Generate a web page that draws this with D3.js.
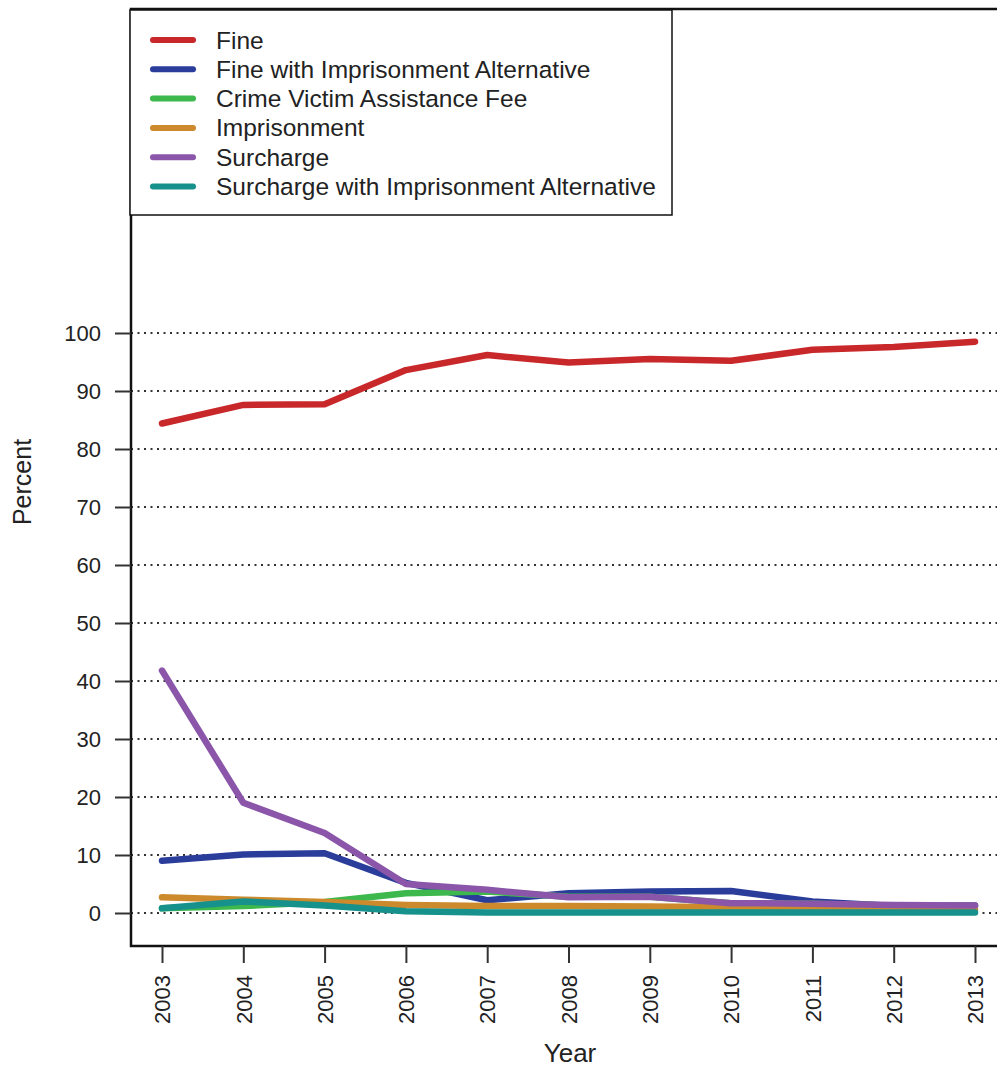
<!DOCTYPE html>
<html><head><meta charset="utf-8">
<script src="https://cdn.jsdelivr.net/npm/d3@7"></script>
<style>body{margin:0;background:#fff;} svg{display:block;font-family:"Liberation Sans",Arial,sans-serif;}</style>
</head><body>
<svg id="c" width="997" height="1070"></svg>
<script>
const years = [2003,2004,2005,2006,2007,2008,2009,2010,2011,2012,2013];
const seriesNames = ["Fine","Fine with Imprisonment Alternative","Crime Victim Assistance Fee","Imprisonment","Surcharge","Surcharge with Imprisonment Alternative"];
const seriesColors = ["#c8282a","#2b3d9b","#3db84c","#cc8a2c","#8b56a9","#17918b"];
const fine = [84.4,87.6,87.7,93.6,96.2,94.9,95.5,95.2,97.1,97.6,98.5];
const fineImpAlt = [9.0,10.1,10.3,5.2,2.2,3.4,3.7,3.8,2.0,1.2,1.3];
const crimeVictimFee = [0.8,1.2,1.9,3.4,3.7,2.8,2.8,1.7,1.6,1.3,1.2];
const imprisonment = [2.7,2.3,1.9,1.4,1.2,1.2,1.1,1.0,0.9,0.8,0.6];
const surcharge = [41.8,19.0,13.8,5.0,4.0,2.7,2.8,1.7,1.6,1.4,1.3];
const surchargeImpAlt = [0.8,2.0,1.3,0.3,0.1,0.1,0.1,0.1,0.1,0.1,0.1];
const yTicks = [0,10,20,30,40,50,60,70,80,90,100];
const xLabel = "Year", yLabel = "Percent";

const data = [fine,fineImpAlt,crimeVictimFee,imprisonment,surcharge,surchargeImpAlt];
const drawOrder = [0,1,2,3,4,5];

const svg = d3.select("#c");
const frame = {left:131, top:9, right:999, bottom:946};
const x = d3.scaleLinear().domain([2003,2013]).range([162,975]);
const y = d3.scaleLinear().domain([0,100]).range([913,333]);

// grid
svg.append("g").selectAll("line").data(yTicks).join("line")
  .attr("x1",frame.left).attr("x2",997)
  .attr("y1",d=>y(d)).attr("y2",d=>y(d))
  .attr("stroke","#333").attr("stroke-width",2).attr("stroke-dasharray","2,4.5");

// lines
const line = d3.line().x((d,i)=>x(years[i])).y(d=>y(d));
drawOrder.forEach(k=>{
  svg.append("path").datum(data[k]).attr("d",line)
    .attr("fill","none").attr("stroke",seriesColors[k]).attr("stroke-width",6.5)
    .attr("stroke-linejoin","round").attr("stroke-linecap","round");
});

// frame
svg.append("path").attr("d",`M${frame.left},${frame.top}H${frame.right}V${frame.bottom}H${frame.left}Z`)
  .attr("fill","none").attr("stroke","#111").attr("stroke-width",2.5);

// y axis
const ya = d3.axisLeft(y).tickValues(yTicks).tickSize(16).tickPadding(14);
const gy = svg.append("g").attr("transform",`translate(${frame.left},0)`).call(ya);
gy.select(".domain").remove();
gy.selectAll(".tick line").attr("stroke","#333").attr("stroke-width",2);
gy.selectAll(".tick text").attr("font-size",22).attr("fill","#222").attr("font-family","Liberation Sans, Arial, sans-serif");

// x axis
const xa = d3.axisBottom(x).tickValues(years).tickFormat(d3.format("d")).tickSize(17).tickPadding(0);
const gx = svg.append("g").attr("transform",`translate(0,${frame.bottom})`).call(xa);
gx.select(".domain").remove();
gx.selectAll(".tick line").attr("stroke","#333").attr("stroke-width",2);
gx.selectAll(".tick text").attr("font-size",22).attr("fill","#222").attr("font-family","Liberation Sans, Arial, sans-serif")
  .attr("transform","translate(0,29) rotate(-90)").attr("text-anchor","end").attr("dy","0.35em").attr("y",0).attr("x",0);

// axis titles
svg.append("text").attr("x",570).attr("y",1062).attr("text-anchor","middle").attr("font-size",26).attr("fill","#222").text(xLabel);
svg.append("text").attr("transform","translate(31,482) rotate(-90)").attr("text-anchor","middle").attr("font-size",25).attr("fill","#222").text(yLabel);

// legend
const lg = svg.append("g");
lg.append("rect").attr("x",130).attr("y",10).attr("width",542).attr("height",205).attr("fill","#fff").attr("stroke","#111").attr("stroke-width",1.5);
seriesNames.forEach((n,i)=>{
  const yy = 40 + i*29.3;
  lg.append("line").attr("x1",153).attr("x2",193).attr("y1",yy).attr("y2",yy)
    .attr("stroke",seriesColors[i]).attr("stroke-width",6).attr("stroke-linecap","round");
  lg.append("text").attr("x",216).attr("y",yy).attr("dy","0.35em").attr("font-size",24.5).attr("fill","#222").text(n);
});
</script>
</body></html>
